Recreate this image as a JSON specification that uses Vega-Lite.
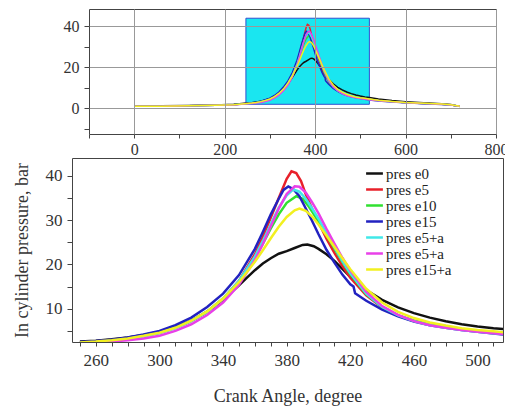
{
"$schema": "https://vega.github.io/schema/vega-lite/v6.json",
"padding": {"left": 12, "top": 8, "right": 3, "bottom": 0},
"background": "white",
"config": {
  "font": "Liberation Serif",
  "view": {"stroke": "#444", "strokeWidth": 1},
  "axis": {"labelFont": "Liberation Serif", "titleFont": "Liberation Serif", "labelColor": "#333", "titleColor": "#333", "titleFontWeight": "normal", "domain": false, "tickColor": "#444", "labelFlush": false, "labelOverlap": false},
  "legend": {"labelFont": "Liberation Serif"}
},
"datasets": {
"curves": [
{"series":"pres e0","angle":0,"pressure":1.2},{"series":"pres e0","angle":60,"pressure":1.3},{"series":"pres e0","angle":120,"pressure":1.4},{"series":"pres e0","angle":180,"pressure":1.6},{"series":"pres e0","angle":220,"pressure":2.0},{"series":"pres e0","angle":250,"pressure":2.6},{"series":"pres e0","angle":260,"pressure":2.8},{"series":"pres e0","angle":270,"pressure":3.1},{"series":"pres e0","angle":280,"pressure":3.5},{"series":"pres e0","angle":290,"pressure":4.1},{"series":"pres e0","angle":300,"pressure":4.8},{"series":"pres e0","angle":310,"pressure":5.8},{"series":"pres e0","angle":320,"pressure":7.3},{"series":"pres e0","angle":330,"pressure":9.3},{"series":"pres e0","angle":340,"pressure":12.0},{"series":"pres e0","angle":350,"pressure":15.3},{"series":"pres e0","angle":355,"pressure":17.0},{"series":"pres e0","angle":360,"pressure":18.7},{"series":"pres e0","angle":365,"pressure":20.2},{"series":"pres e0","angle":370,"pressure":21.4},{"series":"pres e0","angle":375,"pressure":22.4},{"series":"pres e0","angle":380,"pressure":23.0},{"series":"pres e0","angle":385,"pressure":23.7},{"series":"pres e0","angle":390,"pressure":24.4},{"series":"pres e0","angle":393,"pressure":24.5},{"series":"pres e0","angle":397,"pressure":24.1},{"series":"pres e0","angle":400,"pressure":23.5},{"series":"pres e0","angle":405,"pressure":22.3},{"series":"pres e0","angle":410,"pressure":20.8},{"series":"pres e0","angle":415,"pressure":19.0},{"series":"pres e0","angle":420,"pressure":17.2},{"series":"pres e0","angle":430,"pressure":14.2},{"series":"pres e0","angle":440,"pressure":12.0},{"series":"pres e0","angle":450,"pressure":10.3},{"series":"pres e0","angle":460,"pressure":9.0},{"series":"pres e0","angle":470,"pressure":8.0},{"series":"pres e0","angle":480,"pressure":7.2},{"series":"pres e0","angle":490,"pressure":6.5},{"series":"pres e0","angle":500,"pressure":6.0},{"series":"pres e0","angle":510,"pressure":5.6},{"series":"pres e0","angle":520,"pressure":5.3},{"series":"pres e0","angle":540,"pressure":4.6},{"series":"pres e0","angle":570,"pressure":3.8},{"series":"pres e0","angle":600,"pressure":3.2},{"series":"pres e0","angle":640,"pressure":2.7},{"series":"pres e0","angle":680,"pressure":2.3},{"series":"pres e0","angle":700,"pressure":1.9},{"series":"pres e0","angle":720,"pressure":0.9},
{"series":"pres e5","angle":0,"pressure":1.0},{"series":"pres e5","angle":60,"pressure":1.1},{"series":"pres e5","angle":120,"pressure":1.3},{"series":"pres e5","angle":180,"pressure":1.5},{"series":"pres e5","angle":220,"pressure":1.8},{"series":"pres e5","angle":250,"pressure":2.4},{"series":"pres e5","angle":260,"pressure":2.6},{"series":"pres e5","angle":270,"pressure":2.9},{"series":"pres e5","angle":280,"pressure":3.3},{"series":"pres e5","angle":290,"pressure":3.9},{"series":"pres e5","angle":300,"pressure":4.6},{"series":"pres e5","angle":310,"pressure":5.7},{"series":"pres e5","angle":320,"pressure":7.2},{"series":"pres e5","angle":330,"pressure":9.3},{"series":"pres e5","angle":340,"pressure":12.2},{"series":"pres e5","angle":350,"pressure":16.3},{"series":"pres e5","angle":360,"pressure":22.3},{"series":"pres e5","angle":365,"pressure":26.2},{"series":"pres e5","angle":370,"pressure":30.6},{"series":"pres e5","angle":375,"pressure":35.0},{"series":"pres e5","angle":380,"pressure":39.3},{"series":"pres e5","angle":383,"pressure":41.0},{"series":"pres e5","angle":386,"pressure":40.6},{"series":"pres e5","angle":389,"pressure":38.8},{"series":"pres e5","angle":392,"pressure":35.8},{"series":"pres e5","angle":396,"pressure":32.5},{"series":"pres e5","angle":400,"pressure":29.5},{"series":"pres e5","angle":405,"pressure":25.8},{"series":"pres e5","angle":410,"pressure":22.6},{"series":"pres e5","angle":415,"pressure":19.6},{"series":"pres e5","angle":420,"pressure":17.0},{"series":"pres e5","angle":430,"pressure":13.0},{"series":"pres e5","angle":440,"pressure":10.3},{"series":"pres e5","angle":450,"pressure":8.5},{"series":"pres e5","angle":460,"pressure":7.3},{"series":"pres e5","angle":470,"pressure":6.4},{"series":"pres e5","angle":480,"pressure":5.8},{"series":"pres e5","angle":490,"pressure":5.3},{"series":"pres e5","angle":500,"pressure":4.9},{"series":"pres e5","angle":510,"pressure":4.6},{"series":"pres e5","angle":520,"pressure":4.3},{"series":"pres e5","angle":540,"pressure":3.8},{"series":"pres e5","angle":570,"pressure":3.3},{"series":"pres e5","angle":600,"pressure":2.8},{"series":"pres e5","angle":640,"pressure":2.4},{"series":"pres e5","angle":680,"pressure":2.0},{"series":"pres e5","angle":700,"pressure":1.7},{"series":"pres e5","angle":720,"pressure":1.0},
{"series":"pres e10","angle":0,"pressure":1.0},{"series":"pres e10","angle":60,"pressure":1.1},{"series":"pres e10","angle":120,"pressure":1.3},{"series":"pres e10","angle":180,"pressure":1.5},{"series":"pres e10","angle":220,"pressure":1.8},{"series":"pres e10","angle":250,"pressure":2.4},{"series":"pres e10","angle":260,"pressure":2.6},{"series":"pres e10","angle":270,"pressure":2.9},{"series":"pres e10","angle":280,"pressure":3.3},{"series":"pres e10","angle":290,"pressure":3.9},{"series":"pres e10","angle":300,"pressure":4.6},{"series":"pres e10","angle":310,"pressure":5.7},{"series":"pres e10","angle":320,"pressure":7.3},{"series":"pres e10","angle":330,"pressure":9.4},{"series":"pres e10","angle":340,"pressure":12.3},{"series":"pres e10","angle":350,"pressure":16.2},{"series":"pres e10","angle":360,"pressure":21.4},{"series":"pres e10","angle":365,"pressure":24.7},{"series":"pres e10","angle":370,"pressure":28.1},{"series":"pres e10","angle":375,"pressure":31.3},{"series":"pres e10","angle":380,"pressure":33.9},{"series":"pres e10","angle":386,"pressure":35.4},{"series":"pres e10","angle":390,"pressure":34.8},{"series":"pres e10","angle":394,"pressure":33.0},{"series":"pres e10","angle":398,"pressure":30.8},{"series":"pres e10","angle":402,"pressure":28.5},{"series":"pres e10","angle":406,"pressure":26.0},{"series":"pres e10","angle":410,"pressure":23.6},{"series":"pres e10","angle":415,"pressure":20.6},{"series":"pres e10","angle":420,"pressure":17.8},{"series":"pres e10","angle":430,"pressure":13.3},{"series":"pres e10","angle":440,"pressure":10.4},{"series":"pres e10","angle":450,"pressure":8.5},{"series":"pres e10","angle":460,"pressure":7.3},{"series":"pres e10","angle":470,"pressure":6.4},{"series":"pres e10","angle":480,"pressure":5.8},{"series":"pres e10","angle":490,"pressure":5.3},{"series":"pres e10","angle":500,"pressure":4.9},{"series":"pres e10","angle":510,"pressure":4.6},{"series":"pres e10","angle":520,"pressure":4.3},{"series":"pres e10","angle":540,"pressure":3.8},{"series":"pres e10","angle":570,"pressure":3.3},{"series":"pres e10","angle":600,"pressure":2.8},{"series":"pres e10","angle":640,"pressure":2.4},{"series":"pres e10","angle":680,"pressure":2.0},{"series":"pres e10","angle":700,"pressure":1.7},{"series":"pres e10","angle":720,"pressure":1.0},
{"series":"pres e15","angle":0,"pressure":1.0},{"series":"pres e15","angle":60,"pressure":1.1},{"series":"pres e15","angle":120,"pressure":1.3},{"series":"pres e15","angle":180,"pressure":1.5},{"series":"pres e15","angle":220,"pressure":1.8},{"series":"pres e15","angle":250,"pressure":2.5},{"series":"pres e15","angle":260,"pressure":2.7},{"series":"pres e15","angle":270,"pressure":3.0},{"series":"pres e15","angle":280,"pressure":3.5},{"series":"pres e15","angle":290,"pressure":4.2},{"series":"pres e15","angle":300,"pressure":5.0},{"series":"pres e15","angle":310,"pressure":6.3},{"series":"pres e15","angle":320,"pressure":8.0},{"series":"pres e15","angle":330,"pressure":10.4},{"series":"pres e15","angle":340,"pressure":13.4},{"series":"pres e15","angle":350,"pressure":17.6},{"series":"pres e15","angle":360,"pressure":23.5},{"series":"pres e15","angle":365,"pressure":27.3},{"series":"pres e15","angle":370,"pressure":31.3},{"series":"pres e15","angle":375,"pressure":34.8},{"series":"pres e15","angle":378,"pressure":36.8},{"series":"pres e15","angle":381,"pressure":37.6},{"series":"pres e15","angle":384,"pressure":37.0},{"series":"pres e15","angle":388,"pressure":35.4},{"series":"pres e15","angle":392,"pressure":32.6},{"series":"pres e15","angle":396,"pressure":29.8},{"series":"pres e15","angle":400,"pressure":26.8},{"series":"pres e15","angle":405,"pressure":23.3},{"series":"pres e15","angle":410,"pressure":20.4},{"series":"pres e15","angle":415,"pressure":17.7},{"series":"pres e15","angle":420,"pressure":15.5},{"series":"pres e15","angle":422,"pressure":15.0},{"series":"pres e15","angle":423,"pressure":13.5},{"series":"pres e15","angle":430,"pressure":11.8},{"series":"pres e15","angle":440,"pressure":9.8},{"series":"pres e15","angle":450,"pressure":8.3},{"series":"pres e15","angle":460,"pressure":7.1},{"series":"pres e15","angle":470,"pressure":6.3},{"series":"pres e15","angle":480,"pressure":5.7},{"series":"pres e15","angle":490,"pressure":5.2},{"series":"pres e15","angle":500,"pressure":4.8},{"series":"pres e15","angle":510,"pressure":4.4},{"series":"pres e15","angle":520,"pressure":4.1},{"series":"pres e15","angle":540,"pressure":3.6},{"series":"pres e15","angle":570,"pressure":3.1},{"series":"pres e15","angle":600,"pressure":2.7},{"series":"pres e15","angle":640,"pressure":2.3},{"series":"pres e15","angle":680,"pressure":1.9},{"series":"pres e15","angle":700,"pressure":1.6},{"series":"pres e15","angle":720,"pressure":1.0},
{"series":"pres e5+a","angle":0,"pressure":1.0},{"series":"pres e5+a","angle":60,"pressure":1.1},{"series":"pres e5+a","angle":120,"pressure":1.3},{"series":"pres e5+a","angle":180,"pressure":1.5},{"series":"pres e5+a","angle":220,"pressure":1.8},{"series":"pres e5+a","angle":250,"pressure":2.3},{"series":"pres e5+a","angle":260,"pressure":2.5},{"series":"pres e5+a","angle":270,"pressure":2.8},{"series":"pres e5+a","angle":280,"pressure":3.2},{"series":"pres e5+a","angle":290,"pressure":3.8},{"series":"pres e5+a","angle":300,"pressure":4.5},{"series":"pres e5+a","angle":310,"pressure":5.6},{"series":"pres e5+a","angle":320,"pressure":7.2},{"series":"pres e5+a","angle":330,"pressure":9.3},{"series":"pres e5+a","angle":340,"pressure":12.3},{"series":"pres e5+a","angle":350,"pressure":16.3},{"series":"pres e5+a","angle":360,"pressure":21.8},{"series":"pres e5+a","angle":365,"pressure":25.3},{"series":"pres e5+a","angle":370,"pressure":29.1},{"series":"pres e5+a","angle":375,"pressure":32.8},{"series":"pres e5+a","angle":380,"pressure":35.6},{"series":"pres e5+a","angle":384,"pressure":36.9},{"series":"pres e5+a","angle":388,"pressure":36.4},{"series":"pres e5+a","angle":392,"pressure":34.8},{"series":"pres e5+a","angle":396,"pressure":32.6},{"series":"pres e5+a","angle":400,"pressure":30.3},{"series":"pres e5+a","angle":405,"pressure":27.0},{"series":"pres e5+a","angle":410,"pressure":23.9},{"series":"pres e5+a","angle":415,"pressure":20.8},{"series":"pres e5+a","angle":420,"pressure":18.0},{"series":"pres e5+a","angle":430,"pressure":13.4},{"series":"pres e5+a","angle":440,"pressure":10.4},{"series":"pres e5+a","angle":450,"pressure":8.5},{"series":"pres e5+a","angle":460,"pressure":7.2},{"series":"pres e5+a","angle":470,"pressure":6.3},{"series":"pres e5+a","angle":480,"pressure":5.7},{"series":"pres e5+a","angle":490,"pressure":5.2},{"series":"pres e5+a","angle":500,"pressure":4.8},{"series":"pres e5+a","angle":510,"pressure":4.5},{"series":"pres e5+a","angle":520,"pressure":4.2},{"series":"pres e5+a","angle":540,"pressure":3.7},{"series":"pres e5+a","angle":570,"pressure":3.2},{"series":"pres e5+a","angle":600,"pressure":2.8},{"series":"pres e5+a","angle":640,"pressure":2.4},{"series":"pres e5+a","angle":680,"pressure":2.0},{"series":"pres e5+a","angle":700,"pressure":1.7},{"series":"pres e5+a","angle":720,"pressure":1.0},
{"series":"pres e5+a ","angle":0,"pressure":1.0},{"series":"pres e5+a ","angle":60,"pressure":1.1},{"series":"pres e5+a ","angle":120,"pressure":1.3},{"series":"pres e5+a ","angle":180,"pressure":1.5},{"series":"pres e5+a ","angle":220,"pressure":1.7},{"series":"pres e5+a ","angle":250,"pressure":2.2},{"series":"pres e5+a ","angle":260,"pressure":2.4},{"series":"pres e5+a ","angle":270,"pressure":2.6},{"series":"pres e5+a ","angle":280,"pressure":2.9},{"series":"pres e5+a ","angle":290,"pressure":3.3},{"series":"pres e5+a ","angle":300,"pressure":3.9},{"series":"pres e5+a ","angle":310,"pressure":5.0},{"series":"pres e5+a ","angle":320,"pressure":6.5},{"series":"pres e5+a ","angle":330,"pressure":8.6},{"series":"pres e5+a ","angle":340,"pressure":11.4},{"series":"pres e5+a ","angle":350,"pressure":15.4},{"series":"pres e5+a ","angle":360,"pressure":21.0},{"series":"pres e5+a ","angle":365,"pressure":24.6},{"series":"pres e5+a ","angle":370,"pressure":28.6},{"series":"pres e5+a ","angle":375,"pressure":32.6},{"series":"pres e5+a ","angle":380,"pressure":35.9},{"series":"pres e5+a ","angle":385,"pressure":37.6},{"series":"pres e5+a ","angle":388,"pressure":37.5},{"series":"pres e5+a ","angle":392,"pressure":36.2},{"series":"pres e5+a ","angle":396,"pressure":34.0},{"series":"pres e5+a ","angle":400,"pressure":31.5},{"series":"pres e5+a ","angle":405,"pressure":28.0},{"series":"pres e5+a ","angle":410,"pressure":24.7},{"series":"pres e5+a ","angle":415,"pressure":21.5},{"series":"pres e5+a ","angle":420,"pressure":18.6},{"series":"pres e5+a ","angle":430,"pressure":13.8},{"series":"pres e5+a ","angle":440,"pressure":10.6},{"series":"pres e5+a ","angle":450,"pressure":8.6},{"series":"pres e5+a ","angle":460,"pressure":7.2},{"series":"pres e5+a ","angle":470,"pressure":6.3},{"series":"pres e5+a ","angle":480,"pressure":5.7},{"series":"pres e5+a ","angle":490,"pressure":5.2},{"series":"pres e5+a ","angle":500,"pressure":4.8},{"series":"pres e5+a ","angle":510,"pressure":4.5},{"series":"pres e5+a ","angle":520,"pressure":4.2},{"series":"pres e5+a ","angle":540,"pressure":3.7},{"series":"pres e5+a ","angle":570,"pressure":3.2},{"series":"pres e5+a ","angle":600,"pressure":2.8},{"series":"pres e5+a ","angle":640,"pressure":2.4},{"series":"pres e5+a ","angle":680,"pressure":2.0},{"series":"pres e5+a ","angle":700,"pressure":1.7},{"series":"pres e5+a ","angle":720,"pressure":1.0},
{"series":"pres e15+a","angle":0,"pressure":1.0},{"series":"pres e15+a","angle":60,"pressure":1.1},{"series":"pres e15+a","angle":120,"pressure":1.3},{"series":"pres e15+a","angle":180,"pressure":1.5},{"series":"pres e15+a","angle":220,"pressure":1.8},{"series":"pres e15+a","angle":250,"pressure":2.4},{"series":"pres e15+a","angle":260,"pressure":2.6},{"series":"pres e15+a","angle":270,"pressure":2.9},{"series":"pres e15+a","angle":280,"pressure":3.3},{"series":"pres e15+a","angle":290,"pressure":3.9},{"series":"pres e15+a","angle":300,"pressure":4.6},{"series":"pres e15+a","angle":310,"pressure":5.7},{"series":"pres e15+a","angle":320,"pressure":7.3},{"series":"pres e15+a","angle":330,"pressure":9.4},{"series":"pres e15+a","angle":340,"pressure":12.3},{"series":"pres e15+a","angle":350,"pressure":16.0},{"series":"pres e15+a","angle":360,"pressure":20.6},{"series":"pres e15+a","angle":365,"pressure":23.2},{"series":"pres e15+a","angle":370,"pressure":25.9},{"series":"pres e15+a","angle":375,"pressure":28.5},{"series":"pres e15+a","angle":380,"pressure":30.7},{"series":"pres e15+a","angle":385,"pressure":32.2},{"series":"pres e15+a","angle":388,"pressure":32.6},{"series":"pres e15+a","angle":392,"pressure":32.1},{"series":"pres e15+a","angle":396,"pressure":30.8},{"series":"pres e15+a","angle":400,"pressure":29.0},{"series":"pres e15+a","angle":405,"pressure":26.5},{"series":"pres e15+a","angle":410,"pressure":24.0},{"series":"pres e15+a","angle":415,"pressure":21.4},{"series":"pres e15+a","angle":420,"pressure":18.9},{"series":"pres e15+a","angle":430,"pressure":14.5},{"series":"pres e15+a","angle":440,"pressure":11.4},{"series":"pres e15+a","angle":450,"pressure":9.3},{"series":"pres e15+a","angle":460,"pressure":7.9},{"series":"pres e15+a","angle":470,"pressure":6.9},{"series":"pres e15+a","angle":480,"pressure":6.2},{"series":"pres e15+a","angle":490,"pressure":5.6},{"series":"pres e15+a","angle":500,"pressure":5.2},{"series":"pres e15+a","angle":510,"pressure":4.9},{"series":"pres e15+a","angle":520,"pressure":4.6},{"series":"pres e15+a","angle":540,"pressure":4.0},{"series":"pres e15+a","angle":570,"pressure":3.4},{"series":"pres e15+a","angle":600,"pressure":2.9},{"series":"pres e15+a","angle":640,"pressure":2.5},{"series":"pres e15+a","angle":680,"pressure":2.1},{"series":"pres e15+a","angle":700,"pressure":1.8},{"series":"pres e15+a","angle":720,"pressure":1.0}
],
"zoom": [{"angle": 247, "angle_end": 520, "pressure": 2, "pressure_top": 44}]
},
"vconcat": [
{
  "hconcat": [
    {"width": 1, "height": 1, "view": {"stroke": null}, "data": {"values": [{"k": 1}]}, "mark": {"type": "point", "opacity": 0, "size": 0, "strokeWidth": 0}},
    {
      "width": 407, "height": 125,
      "encoding": {
        "x": {"field": "angle", "type": "quantitative", "scale": {"domain": [-100, 800], "nice": false, "zero": false},
          "axis": {"values": [-100,0,100,200,300,400,500,600,700,800], "labelExpr": "datum.value % 200 === 0 ? datum.label : ''", "grid": true, "gridColor": "#999", "gridOpacity": {"condition": {"test": "datum.value % 200 === 0", "value": 1}, "value": 0}, "tickSize": 4, "labelFont": "Liberation Serif", "labelFontSize": 16, "labelPadding": 3, "title": null, "zindex": 1}},
        "y": {"field": "pressure", "type": "quantitative", "scale": {"domain": [-12.5, 48.5], "nice": false, "zero": false},
          "axis": {"values": [-10,0,10,20,30,40], "labelExpr": "datum.value % 20 === 0 ? datum.label : ''", "grid": true, "gridColor": "#999", "gridOpacity": {"condition": {"test": "datum.value % 20 === 0", "value": 1}, "value": 0}, "tickSize": 5, "labelFont": "Liberation Serif", "labelFontSize": 16, "labelPadding": 5, "title": null, "zindex": 1}}
      },
      "layer": [
        {
          "data": {"name": "zoom"},
          "mark": {"type": "rect", "fill": "#1ae6f0", "stroke": "#3050d0", "strokeWidth": 1},
          "encoding": {"x2": {"field": "angle_end"}, "y2": {"field": "pressure_top"}}
        },
        {
          "data": {"name": "curves"},
          "mark": {"type": "line", "strokeWidth": 1.5},
          "encoding": {
            "color": {"field": "series", "type": "nominal",
              "scale": {"domain": ["pres e0","pres e5","pres e10","pres e15","pres e5+a","pres e5+a ","pres e15+a"], "range": ["#111111","#e8202a","#30e030","#2222c0","#40e8e8","#e840e8","#f2f020"]},
              "legend": null}
          }
        }
      ]
    }
  ],
  "spacing": -11,
  "resolve": {"scale": {"x": "independent", "y": "independent"}}
},
{
  "width": 431, "height": 184,
  "data": {"name": "curves"},
  "transform": [{"filter": "datum.angle >= 230 && datum.angle <= 530"}],
  "mark": {"type": "line", "strokeWidth": 2.5, "clip": true},
  "encoding": {
    "x": {"field": "angle", "type": "quantitative", "scale": {"domain": [245, 516], "nice": false, "zero": false},
      "axis": {"values": [250,260,270,280,290,300,310,320,330,340,350,360,370,380,390,400,410,420,430,440,450,460,470,480,490,500,510], "labelExpr": "datum.value % 40 === 20 ? datum.label : ''", "tickSize": 4, "labelFont": "Liberation Serif", "labelFontSize": 17, "labelPadding": 6, "grid": false, "title": "Crank Angle, degree", "titleFont": "Liberation Serif", "titleFontSize": 18, "titlePadding": 19}},
    "y": {"field": "pressure", "type": "quantitative", "scale": {"domain": [2.5, 44], "nice": false, "zero": false},
      "axis": {"values": [5,10,15,20,25,30,35,40], "labelExpr": "datum.value % 10 === 0 ? datum.label : ''", "tickSize": 5, "labelFont": "Liberation Serif", "labelFontSize": 17, "labelPadding": 5, "grid": false, "title": "In cylinder pressure, bar", "titleFont": "Liberation Serif", "titleFontSize": 18, "titlePadding": 14}},
    "color": {"field": "series", "type": "nominal",
      "scale": {"domain": ["pres e0","pres e5","pres e10","pres e15","pres e5+a","pres e5+a ","pres e15+a"], "range": ["#111111","#e8202a","#30e030","#2222c0","#40e8e8","#e840e8","#f2f020"]},
      "legend": {"title": null, "orient": "none", "legendX": 295, "legendY": 8, "symbolType": "M-1.4,0H1.4", "symbolSize": 144, "symbolStrokeWidth": 2.5, "labelFont": "Liberation Serif", "labelFontSize": 15, "labelColor": "#222", "rowPadding": -0.5, "labelOffset": 4, "padding": 0}}
  }
}
],
"spacing": -4,
"resolve": {"scale": {"x": "independent", "y": "independent", "color": "independent"}, "legend": {"color": "independent"}, "axis": {"x": "independent", "y": "independent"}}
}
